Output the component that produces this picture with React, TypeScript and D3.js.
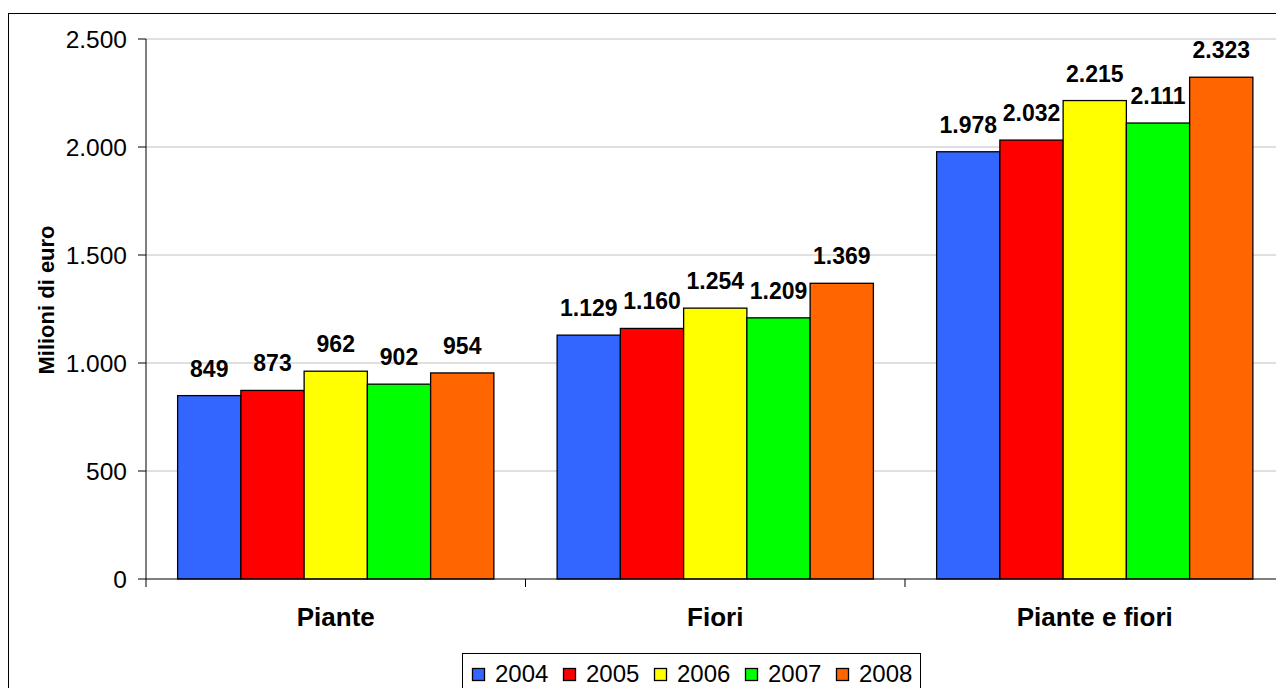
import React from "react";
import * as d3 from "d3";

// Valore della produzione florovivaistica (milioni di euro)
const categories = ["Piante", "Fiori", "Piante e fiori"];
const years = ["2004", "2005", "2006", "2007", "2008"];
const values2004 = [849, 1129, 1978];
const values2005 = [873, 1160, 2032];
const values2006 = [962, 1254, 2215];
const values2007 = [902, 1209, 2111];
const values2008 = [954, 1369, 2323];
const yTicks = [0, 500, 1000, 1500, 2000, 2500];
const colors = ["#3366FF", "#FF0000", "#FFFF00", "#00FF00", "#FF6600"];

const series = [values2004, values2005, values2006, values2007, values2008];

const W = 1276;
const H = 688;
const plot = { left: 146, top: 39, right: 1284.5, bottom: 579 };
const FONT = "'Liberation Sans', Arial, Helvetica, sans-serif";

const it = d3.formatLocale({
  decimal: ",",
  thousands: ".",
  grouping: [3],
  currency: ["", " €"],
});
const fmt = it.format(",d");

export default function App() {
  const y = d3.scaleLinear().domain([0, 2500]).range([plot.bottom, plot.top]);
  const x0 = d3
    .scaleBand<string>()
    .domain(categories)
    .range([plot.left, plot.right])
    .padding(0);
  const x1 = d3
    .scaleBand<string>()
    .domain(years)
    .range([0, x0.bandwidth()])
    .paddingInner(0)
    .paddingOuter(0.5);

  const boundaries = [...categories.map((c) => x0(c)!), plot.right];

  return (
    <svg
      width={W}
      height={H}
      style={{ position: "absolute", left: 0, top: 0, background: "#fff" }}
      fontFamily={FONT}
    >
      {/* chart frame */}
      <rect x={8.5} y={13.5} width={1300} height={700} fill="#fff" stroke="#000" strokeWidth={1} />

      {/* gridlines */}
      {yTicks
        .filter((t) => t > 0)
        .map((t) => (
          <line
            key={`g${t}`}
            x1={plot.left}
            x2={plot.right}
            y1={y(t)}
            y2={y(t)}
            stroke="#c0c0c0"
            strokeWidth={1}
          />
        ))}

      {/* bars */}
      {categories.map((c, ci) =>
        years.map((yr, si) => {
          const v = series[si][ci];
          const bx = x0(c)! + x1(yr)!;
          return (
            <rect
              key={`${c}-${yr}`}
              x={bx}
              y={y(v)}
              width={x1.bandwidth()}
              height={y(0) - y(v)}
              fill={colors[si]}
              stroke="#000"
              strokeWidth={1.3}
            />
          );
        })
      )}

      {/* value labels */}
      {categories.map((c, ci) =>
        years.map((yr, si) => {
          const v = series[si][ci];
          const cx = x0(c)! + x1(yr)! + x1.bandwidth() / 2;
          return (
            <text
              key={`l${c}-${yr}`}
              x={cx}
              y={y(v) - 19}
              textAnchor="middle"
              fontSize={23}
              fontWeight="bold"
              fill="#000"
            >
              {fmt(v)}
            </text>
          );
        })
      )}

      {/* y axis */}
      <line x1={plot.left} x2={plot.left} y1={plot.top} y2={plot.bottom} stroke="#000" />
      {yTicks.map((t) => (
        <g key={`t${t}`}>
          <line x1={plot.left - 8} x2={plot.left} y1={y(t)} y2={y(t)} stroke="#000" />
          <text
            x={127}
            y={y(t)}
            dy="0.36em"
            textAnchor="end"
            fontSize={24.5}
            fill="#000"
          >
            {fmt(t)}
          </text>
        </g>
      ))}

      {/* x axis */}
      <line x1={plot.left} x2={plot.right} y1={plot.bottom} y2={plot.bottom} stroke="#000" />
      {boundaries.map((bx, i) => (
        <line key={`xt${i}`} x1={bx} x2={bx} y1={plot.bottom} y2={plot.bottom + 8} stroke="#000" />
      ))}
      {categories.map((c) => (
        <text
          key={`c${c}`}
          x={x0(c)! + x0.bandwidth() / 2}
          y={626}
          textAnchor="middle"
          fontSize={26}
          fontWeight="bold"
          fill="#000"
        >
          {c}
        </text>
      ))}

      {/* y axis title */}
      <text
        transform={`translate(54, 300) rotate(-90)`}
        textAnchor="middle"
        fontSize={22}
        fontWeight="bold"
        fill="#000"
      >
        Milioni di euro
      </text>

      {/* legend */}
      <rect x={462.5} y={653.5} width={458} height={50} fill="#fff" stroke="#000" />
      {years.map((yr, i) => {
        const lx = 472 + i * 91;
        return (
          <g key={`lg${yr}`}>
            <rect x={lx + 0.5} y={668.5} width={12} height={12} fill={colors[i]} stroke="#000" strokeWidth={1.3} />
            <text x={lx + 23} y={682} fontSize={24} fill="#000">
              {yr}
            </text>
          </g>
        );
      })}
    </svg>
  );
}
